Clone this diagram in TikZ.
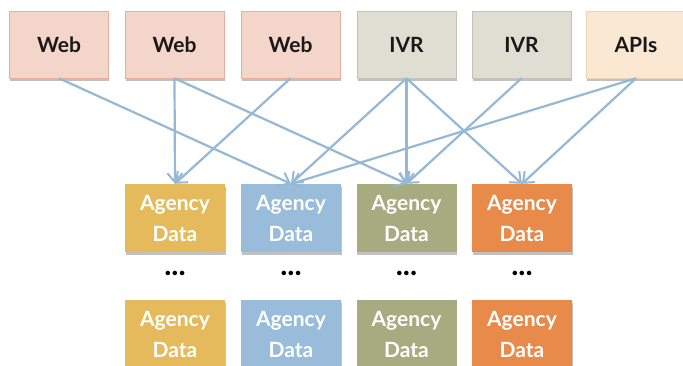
\documentclass[tikz,border=0pt]{standalone}
\usepackage{xcolor}
\usepackage{fontspec}
\setmainfont{Lato}
\usepackage{tikz}
\usetikzlibrary{arrows.meta, positioning, shadows}

\definecolor{webfill}{RGB}{243,213,201}
\definecolor{webline}{RGB}{230,175,155}
\definecolor{ivrfill}{RGB}{222,222,211}
\definecolor{ivrline}{RGB}{195,195,184}
\definecolor{apifill}{RGB}{250,232,211}
\definecolor{apiline}{RGB}{236,210,180}
\definecolor{agmustard}{RGB}{228,186,92}
\definecolor{agblue}{RGB}{152,188,218}
\definecolor{agolive}{RGB}{166,172,127}
\definecolor{agorange}{RGB}{232,138,74}
\definecolor{link}{RGB}{148,184,214}

\begin{document}
\begin{tikzpicture}[
		x=1pt, y=1pt,
		src/.style={draw, line width=0.6pt, minimum width=99pt, minimum height=67pt, font=\fontsize{21}{24}\selectfont\bfseries, text=black!90,
			drop shadow={shadow xshift=0.5pt, shadow yshift=-3pt, opacity=0.4, fill=black!60}},
		agency/.style={minimum width=100pt, minimum height=68pt, align=center, text=white, font=\fontsize{21}{31}\selectfont\bfseries,
			drop shadow={shadow xshift=0.5pt, shadow yshift=-3pt, opacity=0.4, fill=black!60}},
		dots/.style={font=\fontsize{30}{30}\selectfont\bfseries},
		flow/.style={-{Straight Barb[length=9pt, width=15pt, line width=2pt]}, draw=link, line width=2.2pt}
		]
		\clip (0,0) rectangle (683,366);
		\fill[white] (0,0) rectangle (683,366);
		
		% Channels
		\node[src, fill=webfill, draw=webline] (web1) at (59,321.5) {Web};
		\node[src, fill=webfill, draw=webline] (web2) at (174.5,321.5) {Web};
		\node[src, fill=webfill, draw=webline] (web3) at (290.5,321.5) {Web};
		\node[src, fill=ivrfill, draw=ivrline] (ivr1) at (406.5,321.5) {IVR};
		\node[src, fill=ivrfill, draw=ivrline] (ivr2) at (521.5,321.5) {IVR};
		\node[src, fill=apifill, draw=apiline] (apis) at (636,321.5) {APIs};
		
		% Agency data, first row
		\node[agency, fill=agmustard] (ag1) at (175,148) {Agency\\Data};
		\node[agency, fill=agblue] (ag2) at (291,148) {Agency\\Data};
		\node[agency, fill=agolive] (ag3) at (406.5,148) {Agency\\Data};
		\node[agency, fill=agorange] (ag4) at (522,148) {Agency\\Data};
		
		% Agency data, last row
		\node[agency, fill=agmustard] (agl1) at (175,32) {Agency\\Data};
		\node[agency, fill=agblue] (agl2) at (291,32) {Agency\\Data};
		\node[agency, fill=agolive] (agl3) at (406.5,32) {Agency\\Data};
		\node[agency, fill=agorange] (agl4) at (522,32) {Agency\\Data};
		
		% Ellipses between rows
		\node[dots] (d1) at (175,93) {...};
		\node[dots] (d2) at (291,93) {...};
		\node[dots] (d3) at (406.5,93) {...};
		\node[dots] (d4) at (522,93) {...};
		
		% Connections
		\draw[flow] (web1.south) -- (ag2.north);
		\draw[flow] (web2.south) -- (ag1.north);
		\draw[flow] (web2.south) -- (ag3.north);
		\draw[flow] (web3.south) -- (ag1.north);
		\draw[flow] (ivr1.south) -- (ag2.north);
		\draw[flow] (ivr1.south) -- (ag3.north);
		\draw[flow] (ivr1.south) -- (ag4.north);
		\draw[flow] (ivr2.south) -- (ag3.north);
		\draw[flow] (apis.south) -- (ag2.north);
		\draw[flow] (apis.south) -- (ag4.north);
	\end{tikzpicture}
\end{document}
